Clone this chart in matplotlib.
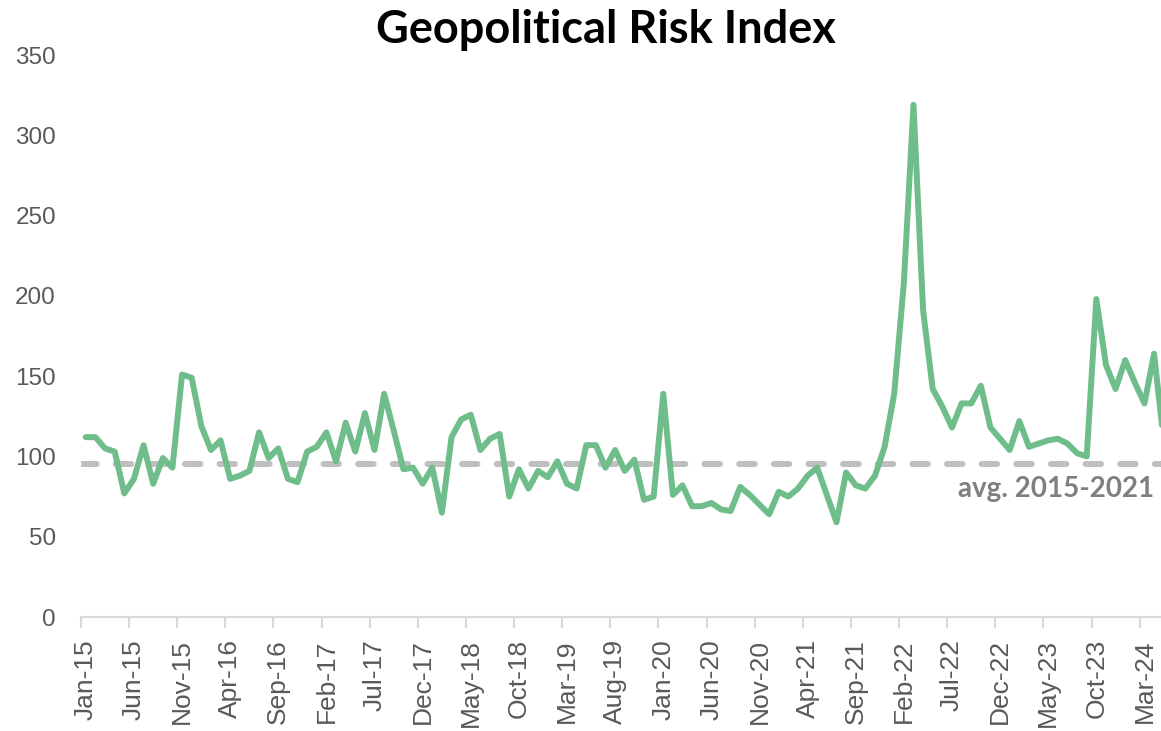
import matplotlib
matplotlib.use('Agg')
import matplotlib.pyplot as plt

# monthly GPR index, Jan-15 .. May-24
gpr = [112, 112, 105, 103, 77, 86, 107, 83, 99, 93,
       151, 149, 119, 104, 110, 86, 88, 91, 115, 99,
       105, 86, 84, 103, 106, 115, 97, 121, 103, 127,
       104, 139, 116, 92, 93, 83, 93, 65, 112, 123,
       126, 104, 111, 114, 75, 92, 80, 91, 87, 97,
       83, 80, 107, 107, 93, 104, 91, 98, 73, 75,
       139, 76, 82, 69, 69, 71, 67, 66, 81, 76,
       70, 64, 78, 75, 80, 88, 93, 76, 59, 90,
       82, 80, 88, 106, 139, 208, 319, 191, 142, 131,
       118, 133, 133, 144, 118, 111, 104, 122, 106, 108,
       110, 111, 108, 102, 100, 198, 157, 142, 160, 146,
       133, 164, 110]

avg_2015_2021 = 95

tick_labels = ['Jan-15', 'Jun-15', 'Nov-15', 'Apr-16', 'Sep-16', 'Feb-17',
               'Jul-17', 'Dec-17', 'May-18', 'Oct-18', 'Mar-19', 'Aug-19',
               'Jan-20', 'Jun-20', 'Nov-20', 'Apr-21', 'Sep-21', 'Feb-22',
               'Jul-22', 'Dec-22', 'May-23', 'Oct-23', 'Mar-24']

plt.rcParams['font.family'] = ['Liberation Sans', 'DejaVu Sans']

fig = plt.figure(figsize=(11.61, 7.31), dpi=100)
ax = fig.add_axes([81 / 1161, 1 - 617 / 731, 1 - 81 / 1161, (617 - 55) / 731])

x = list(range(len(gpr)))
ax.plot(x, gpr, color='#70BD8C', lw=4.3, solid_joinstyle='round',
        solid_capstyle='round', zorder=3)
ax.axhline(avg_2015_2021, color='#BFBFBF', lw=4.3, dashes=(2.6, 3.2),
           dash_capstyle='round', zorder=2)
ax.text(111.0, avg_2015_2021 - 7, 'avg. 2015-2021', ha='right', va='top',
        fontsize=20, fontweight='bold', color='#7F7F7F', family='Lato')

ax.set_xlim(-0.5, 111.72)
ax.set_ylim(0, 350)
ax.set_yticks(range(0, 351, 50))
ax.tick_params(axis='y', length=0, pad=18, labelsize=17.5, labelcolor='#595959')

# labels on category centres, tick marks on category boundaries
ax.set_xticks(range(0, len(tick_labels) * 5, 5))
ax.set_xticklabels(tick_labels, rotation=90)
ax.tick_params(axis='x', which='major', length=0, pad=16, labelsize=19,
               labelcolor='#595959')
ax.set_xticks([i - 0.5 for i in range(0, len(tick_labels) * 5, 5)], minor=True)
ax.tick_params(axis='x', which='minor', length=8, width=1.5, color='#D9D9D9')

for s in ['top', 'right', 'left']:
    ax.spines[s].set_visible(False)
ax.spines['bottom'].set_color('#D9D9D9')
ax.spines['bottom'].set_linewidth(1.5)

fig.text(606 / 1161, 1 - 30 / 731, 'Geopolitical Risk Index', ha='center',
         va='center', fontsize=32.5, fontweight='bold', color='black',
         family='Lato')

fig.savefig('out.png', dpi=100)
